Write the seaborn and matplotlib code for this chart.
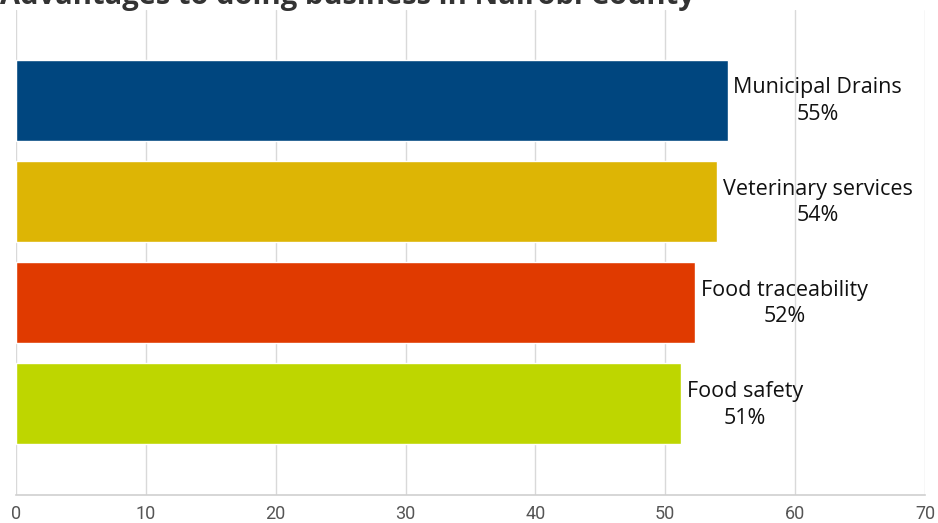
import numpy as np
import pandas as pd
import seaborn as sns
import matplotlib.pyplot as plt

categories = ["Municipal Drains", "Veterinary services", "Food traceability", "Food safety"]
values = [54.8, 54.0, 52.3, 51.2]
pct_labels = ["55%", "54%", "52%", "51%"]
colors = ["#00467f", "#ddb505", "#e03a00", "#bed600"]
xticks = [0, 10, 20, 30, 40, 50, 60, 70]

sns.set_style("white")
plt.rcParams['font.family'] = ['Open Sans', 'DejaVu Sans']

df = pd.DataFrame({"category": categories, "value": values})

fig = plt.figure(figsize=(9.38, 5.23), dpi=100)
ax = fig.add_axes([16 / 938, 28 / 523, 909 / 938, 485 / 523])

sns.barplot(data=df, x="value", y="category", hue="category", palette=colors,
            orient="h", width=0.8, legend=False, ax=ax, saturation=1)

ax.set_xlim(0, 70)
ax.set_ylim(3.9, -0.89)
ax.set_xticks(xticks)
ax.set_xticklabels([str(t) for t in xticks], fontsize=13, color="#555555",
                   family=["Roboto", "DejaVu Sans"])
ax.tick_params(axis="x", length=0, pad=7)
ax.set_yticks([])
ax.set_xlabel("")
ax.set_ylabel("")
ax.grid(axis="x", color="#d9d9d9", linewidth=1)
ax.set_axisbelow(True)
for s in ["top", "right", "left"]:
    ax.spines[s].set_visible(False)
ax.spines["bottom"].set_color("#d0d0d0")
ax.spines["bottom"].set_linewidth(1.2)

for i, (name, v, p) in enumerate(zip(categories, values, pct_labels)):
    ax.text(v + 0.45, i + 0.01, name + "\n" + p, ha="left", va="center",
            multialignment="center", fontsize=15.5, color="#111111",
            linespacing=1.35)

fig.text(0.0, 1.006, "Advantages to doing business in Nairobi County",
         fontsize=21, fontweight="bold", color="#333333", va="center", ha="left")

fig.savefig("out.png", dpi=100)
